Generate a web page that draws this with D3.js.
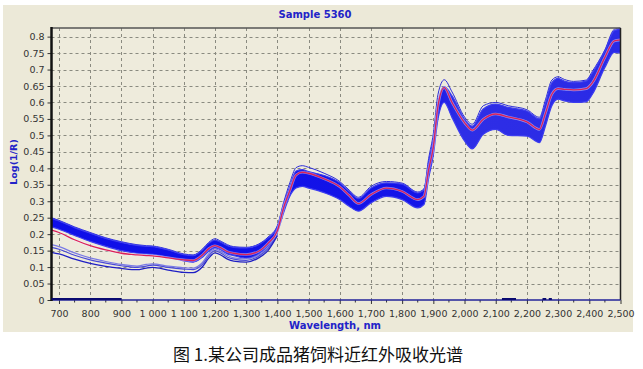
<!DOCTYPE html>
<html><head><meta charset="utf-8">
<script src="https://cdn.jsdelivr.net/npm/d3@7"></script>
<style>
html,body{margin:0;padding:0;background:#fff;}
svg{display:block;}
</style></head>
<body>
<svg id="chart" width="643" height="369"></svg>
<script>
// ---- data ----
const title = "Sample 5360";
const yLabel = "Log(1/R)";
const xLabel = "Wavelength, nm";
const caption = "图 1.某公司成品猪饲料近红外吸收光谱";

const wavelengths = [676,700,750,800,850,900,950,980,1000,1050,1100,1130,1160,1180,1200,1220,1240,1260,1300,1340,1370,1400,1420,1440,1460,1480,1500,1550,1600,1630,1660,1700,1750,1800,1850,1870,1885,1900,1915,1935,1960,2000,2025,2060,2100,2140,2200,2240,2260,2280,2300,2320,2350,2390,2410,2450,2480,2500];
// upper and lower envelope of the dense band of sample spectra
const bandTop    = [.248,.240,.220,.203,.187,.175,.166,.163,.162,.152,.138,.135,.152,.172,.182,.175,.165,.160,.158,.168,.188,.222,.290,.345,.392,.396,.390,.378,.356,.330,.308,.340,.356,.352,.325,.335,.420,.490,.600,.648,.620,.549,.528,.580,.595,.585,.574,.550,.600,.660,.673,.665,.660,.665,.690,.757,.818,.823];
const bandBottom = [.222,.215,.196,.178,.163,.150,.142,.140,.139,.130,.119,.115,.130,.148,.158,.152,.140,.135,.127,.140,.165,.205,.265,.315,.340,.345,.340,.326,.305,.285,.270,.295,.315,.305,.280,.290,.370,.440,.550,.600,.554,.483,.459,.503,.518,.500,.498,.478,.530,.590,.610,.605,.600,.602,.625,.706,.752,.750];
// mean spectrum (red)
const meanSpectrum = [.212,.205,.183,.165,.152,.142,.137,.135,.134,.128,.122,.120,.137,.156,.165,.158,.147,.142,.138,.148,.172,.210,.280,.332,.380,.388,.385,.368,.344,.318,.293,.320,.340,.330,.305,.315,.396,.465,.590,.645,.600,.539,.516,.549,.565,.556,.541,.518,.569,.625,.642,.640,.638,.642,.660,.737,.787,.790];
// highest single spectrum (visible above the band at the peaks)
const maxSpectrum = [.250,.242,.222,.205,.189,.177,.168,.165,.164,.154,.140,.137,.155,.175,.186,.178,.168,.162,.160,.170,.191,.226,.296,.356,.402,.408,.403,.385,.360,.334,.312,.345,.360,.355,.328,.338,.430,.505,.625,.669,.632,.556,.534,.590,.600,.590,.578,.555,.610,.668,.678,.670,.664,.668,.695,.760,.822,.826];
// low outlier spectra (only separated from the band below 1400 nm)
const outlierA = [.168,.162,.143,.128,.117,.108,.103,.108,.110,.103,.098,.097,.114,.140,.155,.147,.135,.128,.125,.137,.160,.200,null,null,null,null,null,null,null,null,null,null,null,null,null,null,null,null,null,null,null,null,null,null,null,null,null,null,null,null,null,null,null,null,null,null,null,null];
const outlierB = [.160,.154,.136,.122,.112,.104,.099,.103,.106,.099,.094,.092,.108,.134,.150,.142,.130,.124,.120,.133,.156,.198,null,null,null,null,null,null,null,null,null,null,null,null,null,null,null,null,null,null,null,null,null,null,null,null,null,null,null,null,null,null,null,null,null,null,null,null];
const outlierC = [.145,.140,.124,.111,.102,.096,.092,.097,.099,.091,.084,.083,.101,.127,.143,.136,.124,.118,.115,.128,.150,.195,null,null,null,null,null,null,null,null,null,null,null,null,null,null,null,null,null,null,null,null,null,null,null,null,null,null,null,null,null,null,null,null,null,null,null,null];
// short flat segments lying on the zero line
const zeroSegments = [[676, 900], [2120, 2165], [2250, 2262], [2270, 2280]];

const xTickValues = [700,800,900,1000,1100,1200,1300,1400,1500,1600,1700,1800,1900,2000,2100,2200,2300,2400,2500];
const xTickLabels = ["700","800","900","1 000","1 100","1,200","1,300","1,400","1,500","1,600","1,700","1,800","1,900","2,000","2,100","2,200","2,300","2,400","2,500"];
const yTickValues = [0,0.05,0.1,0.15,0.2,0.25,0.3,0.35,0.4,0.45,0.5,0.55,0.6,0.65,0.7,0.75,0.8];
const yTickLabels = ["0","0.05","0.1","0.15","0.2","0.25","0.3","0.35","0.4","0.45","0.5","0.55","0.6","0.65","0.7","0.75","0.8"];

// ---- drawing ----
const svg = d3.select("#chart");
const L = 51.5, R = 620.5, T = 28, B = 300;
const x = d3.scaleLinear().domain([676, 2500]).range([L, R]);
const y = d3.scaleLinear().domain([0, 0.8262]).range([B, T]);

svg.append("rect").attr("x",3).attr("y",5).attr("width",630).attr("height",327).attr("fill","#ECE9D8");
svg.append("rect").attr("x",L).attr("y",T).attr("width",R-L).attr("height",B-T).attr("fill","#EEEBDC");

// band fill: denser at short wavelengths, more open (lighter) at long wavelengths
const defs = svg.append("defs");
const grad = defs.append("linearGradient").attr("id","bandGrad").attr("gradientUnits","userSpaceOnUse")
  .attr("x1",L).attr("x2",R).attr("y1",0).attr("y2",0);
grad.append("stop").attr("offset","0%").attr("stop-color","#0f0fe8");
grad.append("stop").attr("offset","66%").attr("stop-color","#1414e8");
grad.append("stop").attr("offset","72%").attr("stop-color","#2e2ee6");
grad.append("stop").attr("offset","100%").attr("stop-color","#2a2ae6");

// grid
const grid = svg.append("g").attr("stroke","#8a8a80").attr("stroke-width",1).attr("stroke-dasharray","3,3");
xTickValues.filter(v => v < 2500).forEach(v => {
  grid.append("line").attr("x1",Math.round(x(v))+0.5).attr("x2",Math.round(x(v))+0.5).attr("y1",T).attr("y2",B);
});
yTickValues.filter(v => v > 0).forEach(v => {
  grid.append("line").attr("x1",L).attr("x2",R).attr("y1",Math.round(y(v))+0.5).attr("y2",Math.round(y(v))+0.5);
});

// axes
const yAxis = d3.axisLeft(y).tickValues(yTickValues).tickSize(4).tickPadding(3)
  .tickFormat((d,i) => yTickLabels[i]);
const gy = svg.append("g").attr("transform",`translate(${L},0)`).call(yAxis);
gy.select(".domain").remove();
gy.selectAll(".tick line").attr("stroke","#333");
gy.selectAll("text").attr("fill","#333").style("font","9.5px 'DejaVu Sans', Verdana, sans-serif");

const xAxis = d3.axisBottom(x).tickValues(xTickValues).tickSize(4).tickPadding(6)
  .tickFormat((d,i) => xTickLabels[i]);
const gx = svg.append("g").attr("transform",`translate(0,${B})`).call(xAxis);
gx.select(".domain").remove();
gx.selectAll(".tick line").attr("stroke","#333");
gx.selectAll("text").attr("fill","#333").style("font","9.5px 'DejaVu Sans', Verdana, sans-serif");
// minor x ticks
svg.append("g").selectAll("line").data(d3.range(750, 2500, 100)).join("line")
  .attr("x1",d=>x(d)).attr("x2",d=>x(d)).attr("y1",B).attr("y2",B+2.5).attr("stroke","#333");

// spectra
const line = arr => d3.line().defined((d,i)=>arr[i]!==null).x((d,i)=>x(wavelengths[i])).y((d,i)=>y(arr[i])).curve(d3.curveMonotoneX)(arr);
svg.append("clipPath").attr("id","clip").append("rect").attr("x",L).attr("y",T-6).attr("width",R-L).attr("height",B-T+6);
const gs = svg.append("g").attr("clip-path","url(#clip)");

const area = d3.area().x((d,i)=>x(wavelengths[i])).y0((d,i)=>y(bandBottom[i])).y1((d,i)=>y(bandTop[i])).curve(d3.curveMonotoneX);
gs.append("path").attr("d", area(bandTop)).attr("fill","url(#bandGrad)");
gs.append("path").attr("d", line(maxSpectrum)).attr("fill","none").attr("stroke","#2a2ad8").attr("stroke-width",1);
gs.append("path").attr("d", line(bandTop)).attr("fill","none").attr("stroke","#3c3cf0").attr("stroke-width",1.2);
gs.append("path").attr("d", line(bandBottom)).attr("fill","none").attr("stroke","#3c3cf0").attr("stroke-width",1.2);
gs.append("path").attr("d", line(outlierA)).attr("fill","none").attr("stroke","#7a7ae6").attr("stroke-width",1.2);
gs.append("path").attr("d", line(outlierB)).attr("fill","none").attr("stroke","#4a4ad8").attr("stroke-width",1.2);
gs.append("path").attr("d", line(outlierC)).attr("fill","none").attr("stroke","#1e1ec4").attr("stroke-width",1.3);
gs.append("path").attr("d", line(meanSpectrum)).attr("fill","none").attr("stroke","#f4f0ff").attr("stroke-width",2.6).attr("opacity",0.5);
gs.append("path").attr("d", line(meanSpectrum)).attr("fill","none").attr("stroke","#dc2058").attr("stroke-width",1.3);

// frame
svg.append("line").attr("x1",L).attr("x2",R).attr("y1",T).attr("y2",T).attr("stroke","#555").attr("stroke-width",1.5);
svg.append("line").attr("x1",R).attr("x2",R).attr("y1",T).attr("y2",B).attr("stroke","#222").attr("stroke-width",1.5);
svg.append("line").attr("x1",L).attr("x2",R).attr("y1",B).attr("y2",B).attr("stroke","#23239a").attr("stroke-width",1.6);
svg.append("line").attr("x1",L).attr("x2",L).attr("y1",T-1).attr("y2",B+1).attr("stroke","#111").attr("stroke-width",2.5);
zeroSegments.forEach(s => {
  svg.append("line").attr("x1",x(s[0])).attr("x2",x(s[1])).attr("y1",y(0)-1).attr("y2",y(0)-1).attr("stroke","#0a0a70").attr("stroke-width",2);
});

// titles
const blue = "#2323c8";
svg.append("text").attr("x",315).attr("y",18).attr("text-anchor","middle").attr("fill",blue)
  .style("font","bold 10px 'DejaVu Sans', Verdana, sans-serif").text(title);
svg.append("text").attr("transform","translate(17,162) rotate(-90)").attr("text-anchor","middle").attr("fill",blue)
  .style("font","bold 9.5px 'DejaVu Sans', Verdana, sans-serif").text(yLabel);
svg.append("text").attr("x",335).attr("y",329).attr("text-anchor","middle").attr("fill",blue)
  .style("font","bold 10px 'DejaVu Sans', Verdana, sans-serif").text(xLabel);
svg.append("text").attr("x",318).attr("y",361).attr("text-anchor","middle").attr("fill","#111")
  .style("font","17px 'Noto Sans CJK SC', sans-serif").text(caption);
</script>
</body></html>
